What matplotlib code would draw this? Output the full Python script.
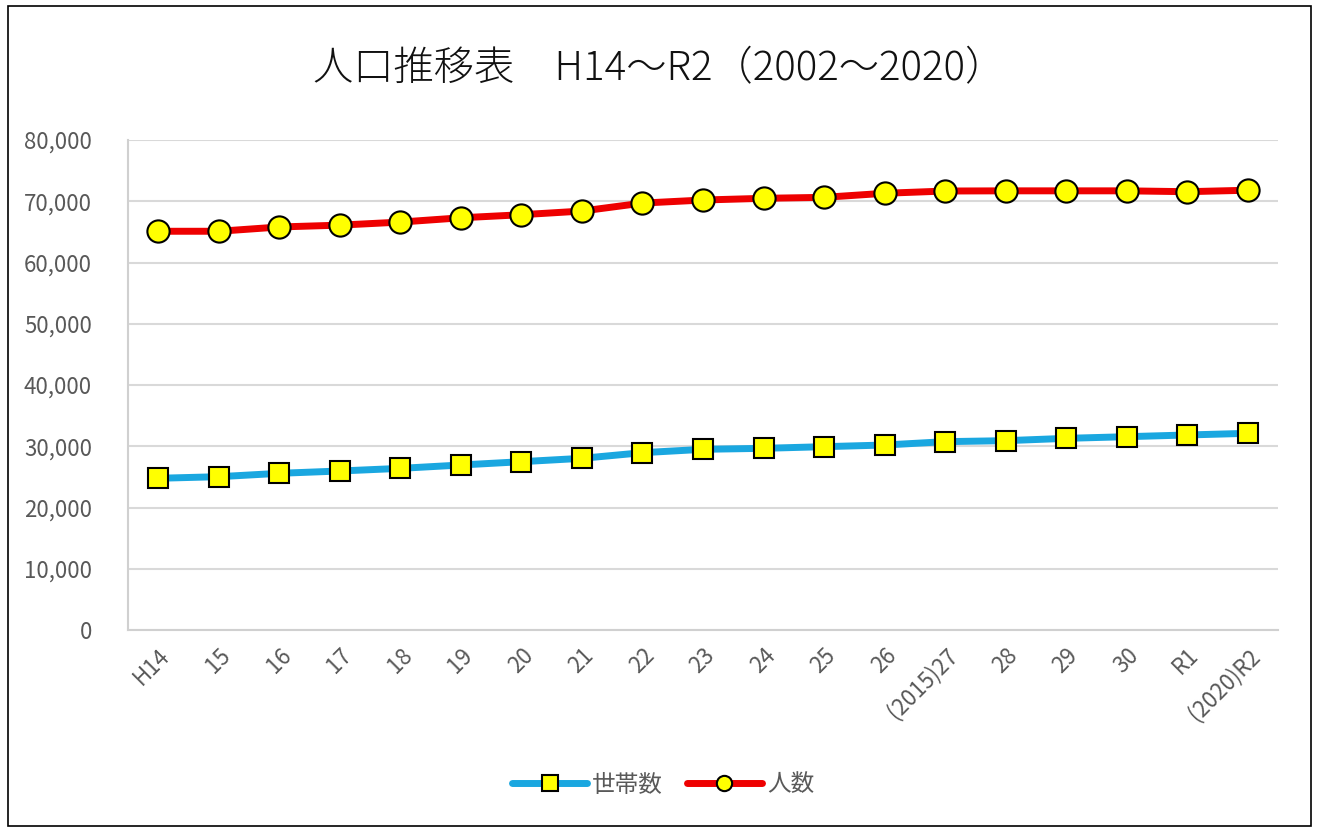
import matplotlib
matplotlib.use("Agg")
import matplotlib.pyplot as plt
from matplotlib.patches import Rectangle
from matplotlib.ticker import FuncFormatter, MultipleLocator

plt.rcParams['font.family'] = ['Noto Sans CJK JP', 'DejaVu Sans']

categories = ["H14", "15", "16", "17", "18", "19", "20", "21", "22", "23", "24",
              "25", "26", "(2015)27", "28", "29", "30", "R1", "(2020)R2"]
households = [24770, 25030, 25580, 25960, 26390, 26940, 27480, 28030, 28950, 29500,
              29660, 29930, 30200, 30750, 30910, 31290, 31560, 31840, 32110]
population = [65100, 65100, 65800, 66100, 66600, 67300, 67800, 68400, 69700, 70200,
              70480, 70640, 71300, 71670, 71700, 71700, 71700, 71560, 71800]
title = "人口推移表　H14～R2（2002～2020）"
label_households = "世帯数"
label_population = "人数"

fig = plt.figure(figsize=(13.19, 8.32), dpi=100)
fig.patches.append(Rectangle((8/1319, 6/832), 1303/1319, 820/832, transform=fig.transFigure,
                             fill=False, edgecolor='black', linewidth=1.2))
ax = fig.add_axes([128/1319, 1-630/832, 1150/1319, 490/832])

x = list(range(len(categories)))
ax.plot(x, households, color='#1aa7e0', linewidth=5, marker='s', markersize=14,
        markerfacecolor='#ffff00', markeredgecolor='black', markeredgewidth=1.5,
        label=label_households, zorder=3, solid_capstyle='round')
ax.plot(x, population, color='#ee0000', linewidth=5, marker='o', markersize=16,
        markerfacecolor='#ffff00', markeredgecolor='black', markeredgewidth=1.5,
        label=label_population, zorder=3, solid_capstyle='round')

ax.set_xlim(-0.5, len(categories)-0.5)
ax.set_ylim(0, 80000)
ax.yaxis.set_major_locator(MultipleLocator(10000))
ax.yaxis.set_major_formatter(FuncFormatter(lambda v, p: f"{int(v):,}"))
ax.grid(axis='y', color='#d9d9d9', linewidth=1.5)
ax.set_axisbelow(True)
for s in ['top', 'right']:
    ax.spines[s].set_visible(False)
ax.spines['left'].set_color('#d0d0d0')
ax.spines['bottom'].set_color('#d0d0d0')
ax.spines['left'].set_linewidth(1.5)
ax.spines['bottom'].set_linewidth(1.5)
ax.tick_params(axis='both', length=0, labelcolor='#595959', labelsize=16)
ax.tick_params(axis='y', pad=26)
ax.set_xticks(x)
ax.set_xticklabels(categories, rotation=45, ha='right', rotation_mode='anchor')
ax.tick_params(axis='x', pad=10)

fig.text(0.500, 1-69/832, title, ha='center', va='center', fontsize=29,
         color='#111111', fontweight='light')

leg = ax.legend(loc='center', bbox_to_anchor=(663/1319*1319/1150 - 128/1150, (1-785/832 - (1-630/832))/(490/832)),
                ncol=2, frameon=False, fontsize=17, handlelength=3.2,
                columnspacing=1.0, handletextpad=0.2)
for t in leg.get_texts():
    t.set_color('#595959')
for h in leg.legend_handles:
    h.set_markersize(11)

fig.savefig("out.png", dpi=100)
